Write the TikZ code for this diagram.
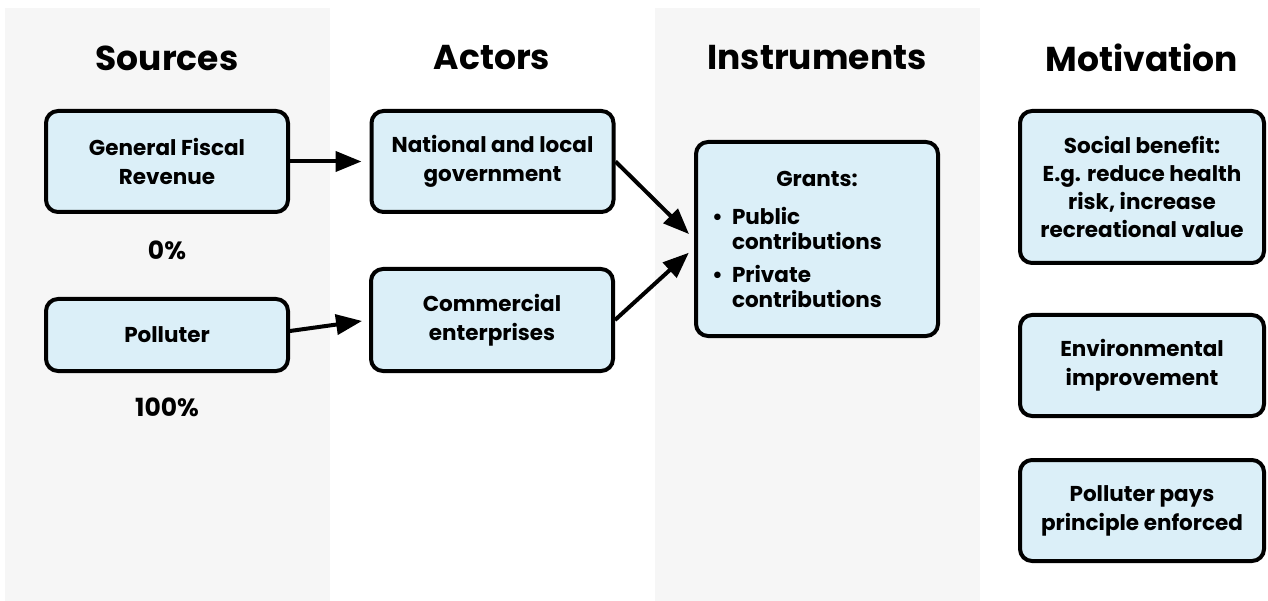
\documentclass[tikz,border=0pt]{standalone}
\usepackage{fontspec}
\setmainfont{Poppins}
\usetikzlibrary{arrows.meta}
\definecolor{bandgray}{HTML}{F6F6F6}
\definecolor{boxblue}{HTML}{DBEFF8}
\tikzset{
  band/.style={fill=bandgray, draw=none},
  title/.style={font=\fontsize{34.5}{40}\selectfont\bfseries, inner sep=0pt},
  box/.style={draw=black, line width=4pt, fill=boxblue, rounded corners=12pt,
    align=center, inner sep=0pt,
    font=\fontsize{21.5}{29}\selectfont\bfseries},
  pct/.style={font=\fontsize{25}{28}\selectfont\bfseries, inner sep=0pt},
  flow/.style={line width=4pt, -{Triangle[length=26pt,width=20pt]}, shorten >=7pt}
}
\begin{document}
\begin{tikzpicture}[x=1pt,y=-1pt]
\useasboundingbox (0,0) rectangle (1268,601);
\fill[white] (0,0) rectangle (1268,601);
\path[band] (5,8) rectangle (330,601);
\path[band] (655,8) rectangle (980,601);

\node[title] (tsrc) at (167,58) {Sources};
\node[title] (tact) at (492,58) {Actors};
\node[title] (tins) at (817,58) {Instruments};
\node[title] (tmot) at (1142,58) {Motivation};

\node[box, minimum width=242pt, minimum height=101pt] (gfr) at (167,161.5) {General Fiscal\\Revenue};
\node[pct] (p0) at (167,250) {0\%};
\node[box, minimum width=242pt, minimum height=72pt] (pol) at (167,335) {Polluter};
\node[pct] (p100) at (167,407) {100\%};

\node[box, minimum width=242pt, minimum height=101pt] (nlg) at (492.5,161.5) {National and local\\government};
\node[box, minimum width=242pt, minimum height=102pt] (com) at (492,320) {Commercial\\enterprises};

\node[box, minimum width=242pt, minimum height=194pt, text width=210pt, align=left,
  font=\fontsize{21.5}{25}\selectfont\bfseries] (grants) at (817,239)
  {\centerline{Grants:}\par\vspace{13pt}%
   \makebox[20pt][l]{\textbullet}Public\\
   \hspace*{20pt}contributions\par\vspace{8pt}%
   \makebox[20pt][l]{\textbullet}Private\\
   \hspace*{20pt}contributions};

\node[box, minimum width=244pt, minimum height=152pt, font=\fontsize{21.5}{28}\selectfont\bfseries] (soc) at (1142,187) {Social benefit:\\E.g. reduce health\\risk, increase\\recreational value};
\node[box, minimum width=244pt, minimum height=101pt] (env) at (1142,365.5) {Environmental\\improvement};
\node[box, minimum width=244pt, minimum height=101pt] (ppp) at (1142,510.5) {Polluter pays\\principle enforced};

\draw[flow, shorten >=8pt] (gfr.east) -- (nlg.west);
\draw[flow] ([yshift=4pt]pol.east) -- (com.west);
\draw[flow] (nlg.east) -- (grants.west);
\draw[flow] (com.east) -- ([yshift=-9pt]grants.west);
\end{tikzpicture}
\end{document}
